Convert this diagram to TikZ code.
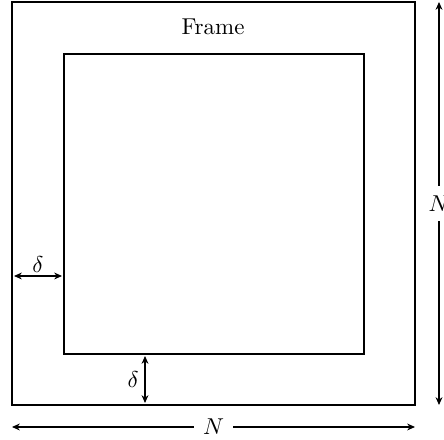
\documentclass[tikz,border=0pt]{standalone}
\usepackage{amsmath,amssymb}
\usepackage{tikz}
\usetikzlibrary{positioning,arrows.meta,calc}

\begin{document}
\begin{tikzpicture}[x=0.0153cm,y=-0.0153cm,
  frame/.style={draw,line width=0.45pt},
  dim/.style={{Stealth[length=3.4pt,width=3pt]}-{Stealth[length=3.4pt,width=3pt]},line width=0.45pt},
  lbl/.style={fill=white,inner sep=4pt}]
\useasboundingbox (0,0) rectangle (444,440);
% outer and inner squares
\coordinate (onw) at (12,2); \coordinate (ose) at (415,405);
\coordinate (inw) at (64,54); \coordinate (ise) at (364,354);
\draw[frame] (onw) rectangle (ose);
\draw[frame] (inw) rectangle (ise);
\node (title) at (213,27) {Frame};
% overall size N
\coordinate (bl) at (12,427); \coordinate (br) at (415,427);
\coordinate (rt) at (439,2); \coordinate (rb) at (439,405);
\draw[dim] (bl) -- node[lbl] (nb) {$N$} (br);
\draw[dim] (rt) -- node[lbl] (nr) {$N$} (rb);
% gap delta
\coordinate (dl) at (14,276); \coordinate (dr) at (62,276);
\coordinate (dt) at (145,356); \coordinate (db) at (145,403);
\draw[dim] (dl) -- node[above,inner sep=1.5pt] (d1) {$\delta$} (dr);
\draw[dim] (dt) -- node[left,inner sep=2.5pt] (d2) {$\delta$} (db);
\end{tikzpicture}
\end{document}
